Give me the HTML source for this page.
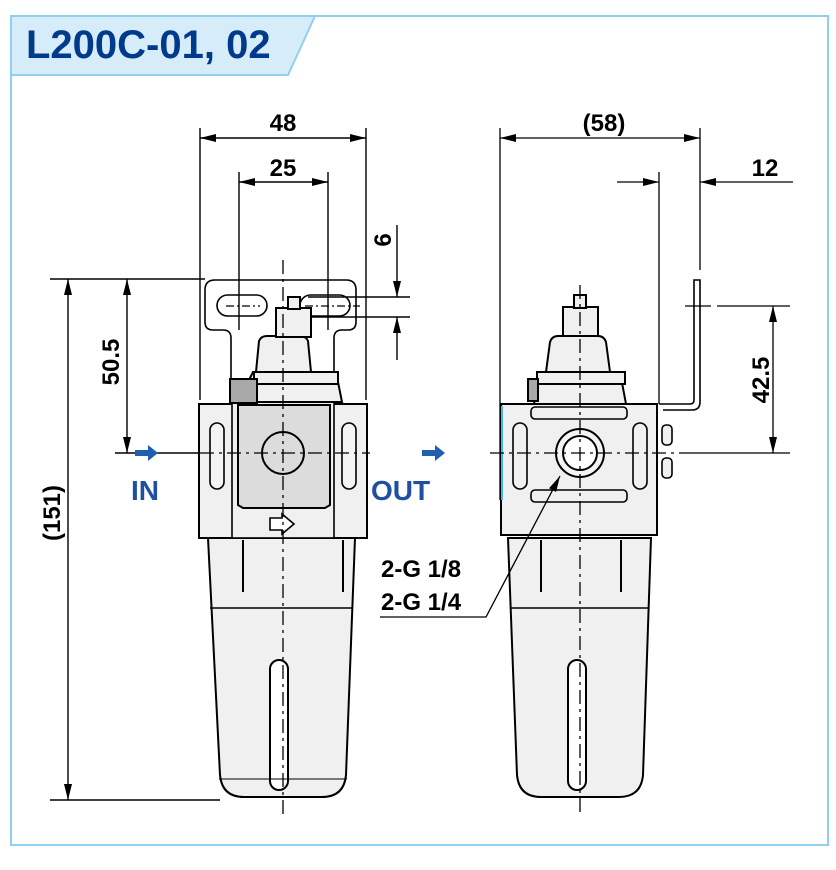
<!DOCTYPE html>
<html><head><meta charset="utf-8"><style>
html,body{margin:0;padding:0;background:#fff;}
svg{display:block;}
text{font-family:"Liberation Sans",Arial,sans-serif;font-weight:bold;}
</style></head><body>
<svg width="836" height="870" viewBox="0 0 836 870" xmlns="http://www.w3.org/2000/svg">
<defs>
<marker id="a" viewBox="0 0 16 8" refX="16" refY="4" markerWidth="16" markerHeight="8" orient="auto-start-reverse" markerUnits="userSpaceOnUse"><path d="M0,0 L16,4 L0,8 Z" fill="#000"/></marker>
</defs>
<path d="M11,16 H828 V845 H11 Z" fill="none" stroke="#8fd0f0" stroke-width="2"/>
<path d="M11,16 H315 L288,75 H11 Z" fill="#d6edf9" stroke="#8fd0f0" stroke-width="2"/>
<text x="26" y="58" font-size="40" fill="#003a8c">L200C-01, 02</text>

<g stroke="#000" stroke-width="1.4" fill="none">
<line x1="200" y1="128" x2="200" y2="400"/>
<line x1="366" y1="128" x2="366" y2="400"/>
<line x1="200" y1="138" x2="366" y2="138" marker-start="url(#a)" marker-end="url(#a)"/>
<line x1="239" y1="172" x2="239" y2="330"/>
<line x1="328" y1="172" x2="328" y2="330"/>
<line x1="239" y1="182" x2="328" y2="182" marker-start="url(#a)" marker-end="url(#a)"/>
<line x1="50" y1="279" x2="205" y2="279"/>
<line x1="115" y1="453" x2="200" y2="453"/>
<line x1="127" y1="279" x2="127" y2="453" marker-start="url(#a)" marker-end="url(#a)"/>
<line x1="50" y1="800" x2="220" y2="800"/>
<line x1="68" y1="279" x2="68" y2="800" marker-start="url(#a)" marker-end="url(#a)"/>
<line x1="308" y1="297" x2="410" y2="297"/>
<line x1="308" y1="317" x2="410" y2="317"/>
<line x1="397" y1="225" x2="397" y2="297" marker-end="url(#a)"/>
<line x1="397" y1="360" x2="397" y2="317" marker-end="url(#a)"/>

<path d="M231,400 V338 q0,-8 -8,-8 H213 q-8,0 -8,-8 V290 q0,-10 10,-10 H346 q10,0 10,10 V322 q0,8 -8,8 H342 q-8,0 -8,8 V400" stroke-width="1.6"/>
<rect x="217" y="295" width="50" height="21" rx="10.5" stroke-width="1.6"/>
<rect x="300" y="295" width="50" height="21" rx="10.5" stroke-width="1.6"/>
</g>

<g stroke="#000" stroke-width="2" fill="#f0f0f0">
<path d="M208,538 H355 L346,775 q-2,22 -24,22 H244 q-22,0 -24,-22 Z"/>
<line x1="210" y1="608" x2="353" y2="608" stroke-width="1.6"/>
<line x1="243" y1="540" x2="243" y2="592"/>
<line x1="343" y1="540" x2="343" y2="592"/>
<rect x="270" y="660" width="18" height="130" rx="9" fill="#fff"/>
<line x1="219" y1="779" x2="347" y2="779" stroke-width="1"/>
<path d="M199,404 H367 V538 H199 Z"/>
<rect x="232" y="402" width="102" height="136" fill="#f0f0f0" stroke-width="1.6"/>
<path d="M238,405 H330 V505 L325,508 H243 L238,505 Z" fill="#dcdcdc"/>
<rect x="210" y="423" width="14" height="66" rx="7" fill="#f4f4f4" stroke-width="1.6"/>
<rect x="342" y="423" width="14" height="66" rx="7" fill="#f4f4f4" stroke-width="1.6"/>
<path d="M270,518 h12 v-4 l12,10 -12,10 v-4 h-12 z" fill="#fff" stroke-width="1.6"/>
<path d="M256,372 l3,-31 q2,-5 8,-5 h33 q6,0 8,5 l3,31 Z"/>
<path d="M253,372 H336 L342,402 H238 Z"/>
<rect x="254" y="372" width="84" height="12"/>
<rect x="230" y="379" width="27" height="24" fill="#a8a8a8"/>
<rect x="276" y="308" width="35" height="29"/>
<rect x="288" y="297" width="12" height="12"/>
<circle cx="283" cy="453" r="21" fill="none"/>

<path d="M508,538 H651 L643,775 q-2,22 -24,22 H541 q-22,0 -24,-22 Z"/>
<line x1="510" y1="608" x2="649" y2="608" stroke-width="1.6"/>
<line x1="541" y1="540" x2="541" y2="592"/>
<line x1="621" y1="540" x2="621" y2="592"/>
<rect x="568" y="660" width="18" height="130" rx="9" fill="#fff"/>
<path d="M501,404 H657 V535 H501 Z"/>
<line x1="502" y1="406" x2="502" y2="500" stroke="#4bb5e8" stroke-width="2"/>
<rect x="531" y="407" width="96" height="12" rx="4" stroke-width="1.6"/>
<rect x="531" y="490" width="96" height="12" rx="4" stroke-width="1.6"/>
<rect x="513" y="423" width="14" height="66" rx="7" stroke-width="1.6"/>
<rect x="633" y="423" width="14" height="66" rx="7" stroke-width="1.6"/>
<circle cx="580" cy="453" r="24" fill="#f4f4f4"/>
<circle cx="580" cy="453" r="17" fill="#fff"/>
<path d="M546,372 l4,-30 q2,-6 8,-6 h40 q6,0 8,6 l4,30 Z"/>
<path d="M540,372 H620 L626,404 H534 Z"/>
<rect x="537" y="372" width="88" height="12"/>
<rect x="528" y="379" width="10" height="22" fill="#a8a8a8"/>
<rect x="563" y="307" width="35" height="29"/>
<rect x="574" y="295" width="12" height="13"/>
<path d="M659,404 H690 q4,0 4,-4 V280 h6 V402 q0,8 -8,8 H663" fill="#fff" stroke-width="1.6"/>
<rect x="662" y="425" width="10" height="20" rx="4" stroke-width="1.6"/>
<rect x="662" y="458" width="10" height="20" rx="4" stroke-width="1.6"/>
</g>

<g stroke="#000" stroke-width="1.3" fill="none">
<path d="M283,260 V815" stroke-dasharray="14,5,3,5"/>
<path d="M580,285 V815" stroke-dasharray="14,5,3,5"/>
<path d="M200,453 H370" stroke-dasharray="14,5,3,5"/>
<path d="M490,453 H680" stroke-dasharray="14,5,3,5"/>
<path d="M226,306 H260 M305,306 H360" stroke-dasharray="8,3,2,3"/>
<line x1="500" y1="128" x2="500" y2="500"/>
<line x1="700" y1="128" x2="700" y2="270"/>
<line x1="500" y1="138" x2="700" y2="138" marker-start="url(#a)" marker-end="url(#a)"/>
<line x1="659" y1="172" x2="659" y2="404"/>
<line x1="617" y1="182" x2="659" y2="182" marker-end="url(#a)"/>
<line x1="793" y1="182" x2="700" y2="182" marker-end="url(#a)"/>
<line x1="685" y1="306" x2="711" y2="306"/>
<line x1="717" y1="306" x2="790" y2="306"/>
<line x1="680" y1="453" x2="790" y2="453"/>
<line x1="773" y1="306" x2="773" y2="453" marker-start="url(#a)" marker-end="url(#a)"/>
<path d="M380,617 H486 L560,476" marker-end="url(#a)"/>
</g>

<path d="M135,450 h13 v-5 l10,8 -10,8 v-5 h-13 z" fill="#1f5fb0"/>
<path d="M422,450 h13 v-5 l10,8 -10,8 v-5 h-13 z" fill="#1f5fb0"/>

<g font-size="24" fill="#000">
<text x="283" y="131" text-anchor="middle">48</text>
<text x="283" y="176" text-anchor="middle">25</text>
<text x="604" y="131" text-anchor="middle">(58)</text>
<text x="765" y="176" text-anchor="middle">12</text>
<text transform="translate(391,240) rotate(-90)" text-anchor="middle">6</text>
<text transform="translate(119,362) rotate(-90)" text-anchor="middle">50.5</text>
<text transform="translate(60,513) rotate(-90)" text-anchor="middle">(151)</text>
<text transform="translate(769,380) rotate(-90)" text-anchor="middle">42.5</text>
<text x="381" y="577">2-G 1/8</text>
<text x="381" y="610">2-G 1/4</text>
</g>
<text x="131" y="500" font-size="28" fill="#1f4fa0">IN</text>
<text x="371" y="500" font-size="28" fill="#1f4fa0">OUT</text>
</svg>
</body></html>
